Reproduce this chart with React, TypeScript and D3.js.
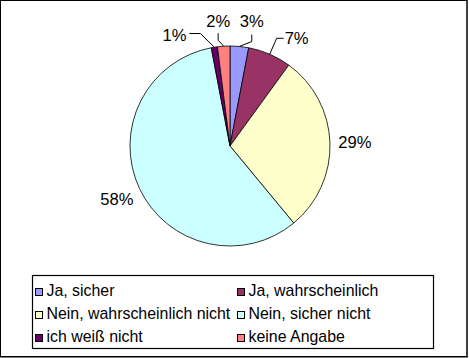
import React from "react";
import * as d3 from "d3";

const categories = [
  "Ja, sicher",
  "Ja, wahrscheinlich",
  "Nein, wahrscheinlich nicht",
  "Nein, sicher nicht",
  "ich weiß nicht",
  "keine Angabe",
];
const values = [3, 7, 29, 58, 1, 2];
const labels = ["3%", "7%", "29%", "58%", "1%", "2%"];
const colors = ["#9999FF", "#993366", "#FFFFCC", "#CCFFFF", "#660066", "#FF8080"];

// layout: label offsets (px) from default label position, and leader styles
const labelShift: [number, number][] = [
  [10, -1],
  [17, 7],
  [0, 0],
  [0, 0],
  [-36, 12],
  [-4, 0],
];
// leader: [startDx, startDy, elbowDx, elbowDy] relative to label centre, or null
const leaders: ([number, number, number, number] | null)[] = [
  [0, 14, 0, 21],
  [-13, 0, -20, 0],
  null,
  null,
  [15, -1, 26, -1],
  [0, 12, 0, 19],
];

const W = 469;
const H = 358;
const cx = 230;
const cy = 146;
const R = 100;
const labelR = 125;

export default function App() {
  const pie = d3.pie<number>().sort(null).value((d) => d);
  const arcs = pie(values);
  const arc = d3.arc<d3.PieArcDatum<number>>().innerRadius(0).outerRadius(R);

  const legendRows = [296, 319, 342];
  const legendCols = [35, 237];

  return (
    <svg
      width={W}
      height={H}
      style={{ position: "absolute", left: 0, top: 0, fontFamily: "Arial, 'Liberation Sans', sans-serif" }}
    >
      <rect x={0} y={0} width={W} height={H} fill="#fff" />
      <rect x={0.5} y={0.5} width={466.5} height={356} fill="none" stroke="#000" strokeWidth={1} />
      <line x1={467} y1={0} x2={467} y2={357} stroke="#000" strokeWidth={1} />
      <line x1={0} y1={357} x2={468} y2={357} stroke="#000" strokeWidth={1} />
      <g transform={`translate(${cx},${cy})`}>
        {arcs.map((a, i) => (
          <path key={i} d={arc(a) || ""} fill={colors[i]} stroke="#000" strokeWidth={0.8} />
        ))}
      </g>
      {arcs.map((a, i) => {
        const mid = (a.startAngle + a.endAngle) / 2;
        const lx = cx + Math.sin(mid) * labelR + labelShift[i][0];
        const ly = cy - Math.cos(mid) * labelR + labelShift[i][1];
        const ax = cx + Math.sin(mid) * R;
        const ay = cy - Math.cos(mid) * R;
        const ld = leaders[i];
        return (
          <g key={i}>
            {ld && (
              <polyline
                points={`${lx + ld[0]},${ly + ld[1]} ${lx + ld[2]},${ly + ld[3]} ${ax},${ay}`}
                fill="none"
                stroke="#000"
                strokeWidth={1}
              />
            )}
            <text x={lx} y={ly} textAnchor="middle" dy="0.36em" fontSize={16.6} fill="#000">
              {labels[i]}
            </text>
          </g>
        );
      })}
      <rect x={32.5} y={275.5} width={401} height={73} fill="#fff" stroke="#000" strokeWidth={1.2} />
      {categories.map((c, i) => {
        const row = Math.floor(i / 2);
        const col = i % 2;
        const bx = legendCols[col];
        const by = legendRows[row];
        return (
          <g key={c}>
            <rect x={bx + 0.5} y={by - 7.5} width={7} height={7} fill={colors[i]} stroke="#000" strokeWidth={1} />
            <text x={bx + 11.5} y={by} fontSize={15.9} fill="#000">
              {c}
            </text>
          </g>
        );
      })}
    </svg>
  );
}
